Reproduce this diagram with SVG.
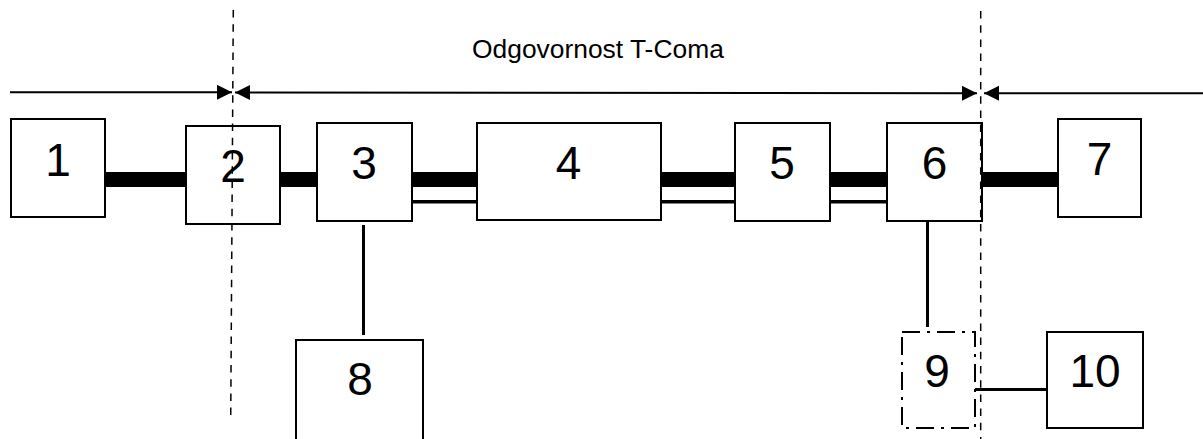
<svg xmlns="http://www.w3.org/2000/svg" width="1203" height="439" viewBox="0 0 1203 439">
<style>
.box{fill:#fff;stroke:#000;stroke-width:2}
.dd{fill:none;stroke:#000;stroke-width:2;stroke-dasharray:18 7 3 7}
.num{font-family:"Liberation Sans",Arial,sans-serif;font-size:46px;text-anchor:middle;fill:#000}
.lbl{font-family:"Liberation Sans",Arial,sans-serif;font-size:26.4px;fill:#000}
.bar{fill:#000}
.thin{fill:#000}
.wire{stroke:#000;stroke-width:3;fill:none}
.arr{stroke:#000;stroke-width:2;fill:none}
.bound{stroke:#000;stroke-width:1.5;stroke-dasharray:7.5 6.7;fill:none}
</style>
<defs>
<marker id="ah" markerUnits="userSpaceOnUse" markerWidth="16" markerHeight="16" refX="15" refY="7.5" orient="auto-start-reverse">
<path d="M0,0 L15,7.5 L0,15 z" fill="#000"/>
</marker>
</defs>
<rect width="1203" height="439" fill="#fff"/>
<text class="lbl" x="472" y="58.3">Odgovornost T-Coma</text>
<g id="connectors">
<rect class="bar" x="105" y="172" width="81" height="15"/>
<rect class="bar" x="280" y="172" width="37" height="15"/>
<rect class="bar" x="412" y="172" width="65" height="15"/>
<rect class="thin" x="412" y="200" width="65" height="3.5"/>
<rect class="bar" x="661" y="172" width="74" height="15"/>
<rect class="thin" x="661" y="200" width="74" height="3.5"/>
<rect class="bar" x="830" y="172" width="57" height="15"/>
<rect class="thin" x="830" y="200" width="57" height="3.5"/>
<rect class="bar" x="982" y="172" width="76" height="15"/>
<line class="wire" x1="363.5" y1="225" x2="363.5" y2="335"/>
<line class="wire" x1="927.5" y1="222" x2="927.5" y2="327"/>
<line class="wire" x1="975" y1="389.5" x2="1047" y2="389.5"/>
<line class="arr" x1="10" y1="92.3" x2="232" y2="92.3" marker-end="url(#ah)"/>
<line class="arr" x1="235" y1="92.5" x2="977" y2="93.3" marker-start="url(#ah)" marker-end="url(#ah)"/>
<line class="arr" x1="984" y1="93.3" x2="1203" y2="93.3" marker-start="url(#ah)"/>
</g>
<g id="node1"><rect class="box" x="11" y="119" width="94" height="98"/><text class="num" x="58" y="176">1</text></g>
<g id="node2"><rect class="box" x="186" y="126" width="94" height="98"/><text class="num" x="233" y="182">2</text></g>
<g id="node3"><rect class="box" x="317" y="123" width="95" height="98"/><text class="num" x="364" y="179.3">3</text></g>
<g id="node4"><rect class="box" x="477" y="123" width="184" height="97"/><text class="num" x="568.5" y="179.3">4</text></g>
<g id="node5"><rect class="box" x="735" y="123" width="95" height="98"/><text class="num" x="782" y="179.3">5</text></g>
<g id="node6"><rect class="box" x="887" y="123" width="95" height="98"/><text class="num" x="934.5" y="179.3">6</text></g>
<g id="node7"><rect class="box" x="1058" y="119" width="83" height="98"/><text class="num" x="1099.5" y="175">7</text></g>
<g id="node8"><rect class="box" x="296" y="340" width="127" height="110"/><text class="num" x="360" y="395">8</text></g>
<g id="node9"><rect class="dd" x="902" y="332" width="73" height="96"/><text class="num" x="937" y="387">9</text></g>
<g id="node10"><rect class="box" x="1047" y="332" width="96" height="96"/><text class="num" x="1095" y="387">10</text></g>
<g id="boundaries">
<line class="bound" x1="233.3" y1="10" x2="230.7" y2="421"/>
<line class="bound" x1="980.7" y1="11" x2="980.7" y2="439"/>
</g>
</svg>
